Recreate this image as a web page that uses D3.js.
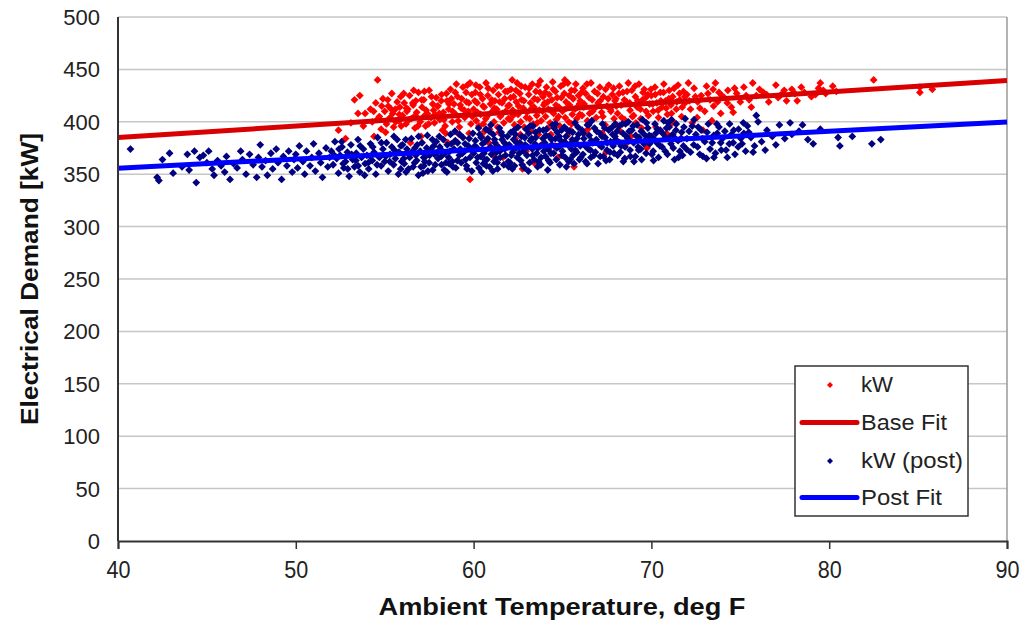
<!DOCTYPE html>
<html><head><meta charset="utf-8">
<script src="https://cdn.jsdelivr.net/npm/d3@7"></script>
<style>
html,body{margin:0;padding:0;background:#fff;}
text{font-family:"Liberation Sans",Arial,sans-serif;}
</style></head>
<body>
<svg id="chart" width="1035" height="622"></svg>
<script>
// ---------- data ----------
const xTicks = [40,50,60,70,80,90];
const yTicks = [0,50,100,150,200,250,300,350,400,450,500];
const seriesNames = ["kW","Base Fit","kW (post)","Post Fit"];
const fitTemps = [40,90];
const baseFitKW = [385,439.5];
const postFitKW = [355.7,399.7];

// kW (base period): [temperature degF, kW]
const kwBase = [
[52.4,392],[52.8,384],[53.3,421],[53.5,408],[53.6,425],[53.9,408],[53.1,399],[53.8,396],
[54.2,412],[54.3,400],[54.5,418],[54.6,440],[54.7,405],[54.8,393],[54.9,422],[55.0,410],[55.1,398],[55.2,415],[55.3,404],[55.4,427],[55.5,395],[55.6,412],[55.7,419],[55.8,401],[55.9,424],[55.05,390],[55.45,408],[55.85,414],[54.4,386],
[56.0,406],[56.1,418],[56.2,398],[56.3,412],[56.4,425],[56.5,403],[56.6,416],[56.7,394],[56.8,409],[56.9,428],[57.0,400],[57.1,414],[57.2,421],[57.3,396],[57.4,408],[57.5,430],[57.6,404],[57.7,417],[57.8,399],[57.9,423],[56.25,410],[56.75,420],[57.25,406],[57.75,411],[57.05,386],[56.45,380],
[58.0,415],[58.1,402],[58.2,426],[58.3,409],[58.4,396],[58.5,420],[58.6,412],[58.7,431],[58.8,400],[58.9,417],[59.0,407],[59.1,424],[59.2,395],[59.3,413],[59.4,433],[59.5,404],[59.6,419],[59.65,435],[59.8,437],[59.7,410],[59.85,398],[59.9,426],[58.25,392],[58.75,422],[59.25,416],[59.75,389],[59.8,345],[58.55,380],[59.45,372],
[60.0,412],[60.1,428],[60.15,401],[60.2,418],[60.3,396],[60.35,433],[60.4,407],[60.5,422],[60.55,398],[60.6,414],[60.7,437],[60.75,405],[60.8,425],[60.9,393],[60.95,417],[61.0,409],[61.1,430],[61.15,400],[61.2,420],[61.3,412],[61.35,395],[61.4,426],[61.5,405],[61.55,434],[61.6,418],[61.7,399],[61.75,422],[61.8,410],[61.9,429],[61.95,403],[60.45,386],[61.25,376],[61.65,366],[60.85,380],
[62.0,416],[62.05,402],[62.1,431],[62.2,411],[62.25,424],[62.3,397],[62.4,419],[62.45,437],[62.5,407],[62.6,427],[62.65,400],[62.7,421],[62.8,413],[62.85,395],[62.9,433],[63.0,409],[63.1,426],[63.15,403],[63.2,418],[63.3,436],[63.35,398],[63.4,414],[63.5,429],[63.55,406],[63.6,421],[63.7,411],[63.75,439],[63.8,401],[63.9,424],[63.95,416],[62.35,384],[62.95,372],[63.45,360],[63.65,388],[62.75,355],
[64.0,418],[64.05,405],[64.1,433],[64.2,412],[64.25,426],[64.3,399],[64.4,421],[64.45,438],[64.5,408],[64.6,429],[64.65,402],[64.7,423],[64.8,414],[64.85,396],[64.9,434],[65.0,410],[65.1,427],[65.15,404],[65.2,419],[65.3,437],[65.35,400],[65.4,416],[65.5,430],[65.55,407],[65.6,422],[65.7,412],[65.75,436],[65.8,403],[65.9,425],[65.95,417],[64.35,388],[64.95,379],[65.45,392],[65.65,357],[64.75,366],
[66.0,420],[66.1,406],[66.15,432],[66.2,414],[66.3,427],[66.4,401],[66.5,423],[66.6,437],[66.7,410],[66.8,429],[66.9,404],[67.0,418],[67.1,433],[67.2,409],[67.3,424],[67.4,397],[67.5,415],[67.6,435],[67.7,412],[67.8,426],[67.9,403],[67.95,420],[66.25,390],[66.85,382],[67.45,371],[67.65,393],
[68.0,422],[68.1,408],[68.2,434],[68.3,416],[68.4,428],[68.5,402],[68.6,419],[68.7,437],[68.8,411],[68.9,430],[69.0,406],[69.1,424],[69.2,414],[69.3,436],[69.4,403],[69.5,421],[69.6,431],[69.7,410],[69.8,426],[69.9,417],[68.25,391],[68.85,386],[69.45,394],[69.75,375],
[70.0,425],[70.1,410],[70.2,433],[70.3,418],[70.4,404],[70.5,428],[70.6,414],[70.7,436],[70.8,420],[70.9,407],[71.0,430],[71.1,416],[71.2,424],[71.4,412],[71.5,435],[71.6,421],[71.7,405],[71.8,429],[71.9,418],[70.25,395],[70.85,389],[71.3,399],[71.65,384],
[72.0,426],[72.2,412],[72.3,399],[72.4,432],[72.6,419],[72.8,425],[73.0,410],[73.1,434],[73.3,421],[73.5,415],[73.6,437],[73.8,428],[73.9,408],[72.9,392],[73.4,401],
[74.1,423],[74.3,430],[74.5,414],[74.8,427],[75.0,419],[75.2,433],[75.5,421],[75.7,437],[75.9,425],[74.6,409],
[76.3,428],[76.6,419],[77.0,435],[77.3,426],[77.6,420],[77.9,431],[78.2,420],[78.6,428],[79.0,424],[79.4,432],[79.5,437],[79.8,427],[80.2,434],[80.4,429],
[82.5,440],[85.1,433],[85.1,428],[85.8,431],
[54.38,410],[54.62,403],[54.83,415],[55.17,421],[55.37,412],[55.62,400],[55.82,407],[56.07,427],[56.22,413],[56.37,402],[56.58,418],[56.72,406],[56.87,396],[57.08,421],[57.33,411],[57.47,398],[57.63,424],[57.83,407],[57.97,415],[55.93,396],[56.63,430],[57.23,429],
[58.07,408],[58.18,420],[58.33,402],[58.47,427],[58.62,417],[58.82,410],[58.97,428],[59.13,401],[59.33,422],[59.48,411],[59.58,428],[59.73,418],[59.93,405],[60.07,420],[60.22,409],[60.38,426],[60.53,415],[60.68,403],[60.82,432],[61.02,421],[61.17,413],[61.33,434],[61.47,419],[61.63,408],[61.78,429],[61.93,415],[58.43,389],[59.18,388],[60.62,391],[61.43,390],[60.13,435],[59.03,436],[58.92,381],[61.08,369],
[62.08,423],[62.22,406],[62.38,430],[62.53,415],[62.68,434],[62.83,420],[62.97,404],[63.12,432],[63.27,413],[63.42,422],[63.58,399],[63.73,428],[63.88,410],[64.03,428],[64.17,419],[64.33,411],[64.48,431],[64.63,416],[64.78,405],[64.93,423],[65.07,436],[65.23,413],[65.38,425],[65.52,398],[65.68,430],[65.83,414],[65.97,407],[62.63,388],[63.22,391],[64.18,394],[65.28,387],[63.83,378],[64.57,377],[62.17,440],[63.63,435],[65.13,440],
[66.07,428],[66.22,417],[66.37,436],[66.52,408],[66.67,421],[66.82,413],[66.97,427],[67.12,420],[67.27,405],[67.42,431],[67.57,422],[67.72,410],[67.87,432],[68.03,415],[68.18,427],[68.33,404],[68.48,421],[68.63,429],[68.78,418],[68.93,405],[69.08,434],[69.23,420],[69.38,412],[69.53,428],[69.68,423],[69.83,406],[69.97,431],[66.43,393],[67.23,389],[68.08,396],[69.13,399],[67.83,380],[68.58,379],
[70.07,417],[70.22,426],[70.38,411],[70.53,420],[70.68,428],[70.83,413],[70.98,422],[71.13,408],[71.28,432],[71.43,419],[71.58,427],[71.73,414],[71.88,424],[72.13,420],[72.47,424],[72.73,413],[73.18,427],[73.47,431],[73.72,419],[73.97,425],[71.03,397],[72.57,404],[72.08,437],
[74.27,418],[74.68,432],[75.33,425],[75.62,414],[76.08,431],[76.48,426],[77.13,423],[77.47,430],[78.07,427],[78.43,433],[79.23,426],[79.67,430]
];

// kW (post period): [temperature degF, kW]
const kwPost = [
[40.7,374],[42.2,347],[42.3,344],[42.5,364],[42.9,370],[43.1,351],[43.6,357],[43.9,369],
[44.0,354],[44.3,372],[44.4,342],[44.6,366],[44.8,368],[45.0,361],[45.1,372],[45.3,355],[45.4,349],[45.6,363],[45.8,358],[46.0,352],[46.1,367],[46.3,345],[46.5,360],[46.7,356],[46.9,372],[47.0,364],[47.2,350],[47.4,369],[47.6,359],[47.8,347],[47.9,366],
[48.0,378],[48.1,357],[48.3,363],[48.4,349],[48.6,370],[48.7,355],[48.9,374],[49.0,361],[49.2,345],[49.3,367],[49.5,358],[49.6,372],[49.8,352],[49.9,364],
[50.0,369],[50.1,356],[50.2,377],[50.4,362],[50.5,350],[50.6,372],[50.8,358],[50.9,366],[51.0,379],[51.1,353],[51.3,370],[51.4,361],[51.5,347],[51.7,375],[51.8,357],[51.9,366],
[52.0,372],[52.1,359],[52.2,381],[52.3,365],[52.4,351],[52.5,368],[52.6,376],[52.7,356],[52.8,362],[52.9,371],[53.0,348],[53.1,378],[53.2,364],[53.3,357],[53.4,370],[53.5,383],[53.6,352],[53.7,366],[53.8,374],[53.9,360],
[54.0,368],[54.1,355],[54.2,379],[54.3,363],[54.4,371],[54.5,350],[54.6,385],[54.7,366],[54.8,358],[54.9,374],[55.0,362],[55.1,380],[55.2,353],[55.3,369],[55.4,376],[55.5,359],[55.6,365],[55.7,383],[55.8,371],[55.9,355],[55.95,362],[55.55,373],
[56.0,378],[56.1,360],[56.2,352],[56.3,370],[56.4,366],[56.5,384],[56.6,357],[56.7,375],[56.8,363],[56.9,349],[57.0,372],[57.1,380],[57.2,358],[57.3,367],[57.4,387],[57.5,361],[57.6,374],[57.7,354],[57.8,369],[57.9,381],[56.25,374],[56.75,368],[57.25,362],[57.75,377],[57.15,351],
[58.0,365],[58.1,376],[58.2,359],[58.3,383],[58.4,370],[58.5,352],[58.6,366],[58.7,388],[58.8,362],[58.9,374],[59.0,356],[59.1,380],[59.2,368],[59.3,361],[59.4,385],[59.5,372],[59.6,358],[59.7,377],[59.8,366],[59.9,353],[58.25,372],[58.75,379],[59.25,374],[59.75,384],[58.45,361],[59.55,364],[58.95,391],
[60.0,370],[60.1,382],[60.15,361],[60.2,375],[60.3,356],[60.35,388],[60.4,367],[60.5,379],[60.55,360],[60.6,372],[60.7,393],[60.75,364],[60.8,384],[60.9,357],[60.95,376],[61.0,369],[61.1,388],[61.15,362],[61.2,380],[61.3,371],[61.35,355],[61.4,376],[61.5,366],[61.55,390],[61.6,383],[61.7,359],[61.75,374],[61.8,368],[61.9,386],[61.95,362],[60.45,352],[61.45,394],[60.65,381],[61.25,365],
[62.0,378],[62.05,361],[62.1,390],[62.2,371],[62.25,383],[62.3,358],[62.4,375],[62.45,366],[62.5,395],[62.6,380],[62.65,363],[62.7,386],[62.8,372],[62.85,356],[62.9,378],[63.0,368],[63.1,389],[63.15,361],[63.2,382],[63.3,374],[63.35,396],[63.4,364],[63.5,385],[63.55,370],[63.6,357],[63.7,392],[63.75,377],[63.8,366],[63.9,384],[63.95,372],[62.35,388],[62.95,393],[63.45,379],[63.65,362],
[64.0,380],[64.05,367],[64.1,393],[64.2,374],[64.25,386],[64.3,361],[64.4,378],[64.45,397],[64.5,370],[64.6,384],[64.65,364],[64.7,390],[64.8,376],[64.85,359],[64.9,382],[65.0,372],[65.1,395],[65.15,366],[65.2,386],[65.3,378],[65.35,362],[65.4,391],[65.5,374],[65.55,383],[65.6,368],[65.7,399],[65.75,380],[65.8,371],[65.9,388],[65.95,364],[64.35,370],[64.95,392],[65.45,379],[65.65,360],
[66.0,377],[66.1,392],[66.15,369],[66.2,384],[66.3,362],[66.4,397],[66.45,374],[66.5,387],[66.6,366],[66.7,380],[66.8,394],[66.85,371],[66.9,383],[67.0,360],[67.1,389],[67.2,376],[67.25,398],[67.3,367],[67.4,385],[67.5,373],[67.6,392],[67.65,364],[67.7,381],[67.8,395],[67.9,370],[67.95,386],[66.65,401],[67.45,363],[66.25,378],[67.85,377],
[68.0,383],[68.1,368],[68.2,396],[68.3,377],[68.4,389],[68.5,365],[68.6,386],[68.7,400],[68.8,373],[68.9,392],[69.0,380],[69.1,367],[69.2,397],[69.3,385],[69.4,374],[69.5,402],[69.6,388],[69.7,370],[69.8,394],[69.9,379],[68.25,371],[68.75,391],[69.25,376],[69.75,384],[68.55,398],[69.45,364],
[70.0,386],[70.1,372],[70.2,398],[70.3,380],[70.4,366],[70.5,392],[70.6,376],[70.7,401],[70.8,385],[70.9,369],[71.0,395],[71.1,379],[71.2,388],[71.3,364],[71.4,398],[71.5,382],[71.6,372],[71.7,390],[71.8,377],[71.9,403],[70.25,389],[70.85,394],[71.35,384],[71.75,368],
[72.0,384],[72.2,371],[72.3,396],[72.5,388],[72.6,376],[72.8,392],[72.9,367],[73.0,381],[73.2,398],[73.3,374],[73.5,387],[73.6,370],[73.8,395],[73.9,380],[72.4,402],[73.1,365],[73.7,389],
[74.0,384],[74.2,373],[74.4,398],[74.5,388],[74.7,369],[74.9,393],[75.1,379],[75.3,372],[75.4,396],[75.6,385],[75.8,377],[75.9,406],[74.6,380],[75.2,389],
[76.0,400],[76.2,381],[76.4,373],[76.5,392],[76.8,386],[77.0,378],[77.2,397],[77.5,384],[77.8,399],[77.9,388],
[78.3,391],[78.5,397],[78.8,383],[79.1,379],[79.5,393],[80.5,385],[80.6,377],[81.3,386],[82.4,379],[82.9,383],
[52.17,368],[52.43,374],[52.66,360],[52.92,355],[53.14,369],[53.38,363],[53.62,377],[53.87,349],[54.08,361],[54.33,376],[54.57,359],[54.81,380],[55.06,367],[55.28,362],[55.52,386],[55.77,350],[55.91,377],[54.19,367],[53.51,358],[52.58,381],
[56.07,365],[56.18,383],[56.34,355],[56.52,371],[56.68,361],[56.83,378],[57.04,357],[57.19,366],[57.36,375],[57.53,368],[57.68,383],[57.84,359],[57.97,371],[58.07,386],[58.18,367],[58.36,354],[58.52,378],[58.67,372],[58.84,357],[58.97,382],[59.08,363],[59.22,388],[59.37,370],[59.52,379],[59.63,355],[59.83,374],[59.96,389],[58.62,360],[57.43,353],[56.91,386],
[60.07,377],[60.23,366],[60.42,385],[60.58,370],[60.72,358],[60.88,391],[61.03,374],[61.18,383],[61.33,361],[61.48,372],[61.62,387],[61.83,377],[61.97,357],[62.12,368],[62.28,392],[62.42,380],[62.57,370],[62.73,359],[62.88,385],[63.03,376],[63.18,396],[63.32,368],[63.48,390],[63.62,375],[63.78,359],[63.92,392],[60.28,394],[61.08,353],[62.18,355],[63.08,353],[60.97,397],[62.52,376],[63.27,384],[61.73,380],[60.63,364],
[64.07,387],[64.22,363],[64.38,383],[64.53,394],[64.68,375],[64.82,386],[64.97,368],[65.12,381],[65.28,392],[65.43,364],[65.57,390],[65.72,373],[65.87,395],[66.03,366],[66.17,389],[66.33,376],[66.48,397],[66.62,382],[66.77,368],[66.92,391],[67.07,378],[67.22,386],[67.37,394],[67.52,380],[67.67,371],[67.82,388],[67.97,398],[64.62,398],[65.22,357],[66.38,360],[67.12,367],[64.17,354],[65.82,384],[66.57,373],
[68.07,391],[68.22,380],[68.37,398],[68.52,376],[68.67,384],[68.82,367],[68.97,396],[69.12,387],[69.28,373],[69.43,391],[69.58,379],[69.72,399],[69.88,387],[70.03,369],[70.18,383],[70.33,393],[70.48,377],[70.63,389],[70.78,372],[70.93,399],[71.08,386],[71.23,375],[71.38,392],[71.53,366],[71.68,384],[71.83,395],[71.97,374],[68.42,362],[69.02,362],[70.12,363],[71.13,402],
[72.12,391],[72.38,378],[72.63,395],[72.87,384],[73.13,390],[73.42,380],[73.68,398],[73.93,373],[74.13,391],[74.38,379],[74.63,392],[74.88,376],[75.17,399],[75.48,390],[75.72,371],[72.72,369],[73.52,366],[74.27,366],[75.03,384]
];

// ---------- layout ----------
const svg = d3.select("#chart");
const L = 118, R = 1007, T = 17, B = 541;
const x = d3.scaleLinear().domain([40,90]).range([L,R]);
const y = d3.scaleLinear().domain([0,500]).range([B,T]);
const diamond = r => `M0,${-r}L${r},0L0,${r}L${-r},0Z`;

// gridlines
svg.append("g").selectAll("line").data(yTicks.filter(d=>d>0)).join("line")
  .attr("x1",L).attr("x2",R).attr("y1",d=>y(d)).attr("y2",d=>y(d))
  .attr("stroke","#c6c6c6").attr("stroke-width",1.5);
// right border
svg.append("line").attr("x1",R).attr("x2",R).attr("y1",T).attr("y2",B)
  .attr("stroke","#9a9a9a").attr("stroke-width",1.5);

// y tick labels
svg.append("g").selectAll("text").data(yTicks).join("text")
  .attr("x",100).attr("y",d=>y(d)+8).attr("text-anchor","end")
  .attr("font-size",22).attr("fill","#222").text(d=>d);

// x axis
const xAxis = d3.axisBottom(x).tickValues(xTicks).tickSize(8).tickPadding(12).tickFormat(d3.format("d"));
const gx = svg.append("g").attr("transform",`translate(0,${B})`).call(xAxis);
gx.select(".domain").attr("stroke","#333").attr("stroke-width",2);
gx.selectAll(".tick line").attr("stroke","#333").attr("stroke-width",1.5);
gx.selectAll(".tick text").attr("font-size",24).attr("fill","#222")
  .attr("font-family","'Liberation Sans Narrow','Liberation Sans',Arial,sans-serif")
  .attr("textLength",24).attr("lengthAdjust","spacingAndGlyphs");

// scatter kW
svg.append("g").selectAll("path").data(kwBase).join("path")
  .attr("d",diamond(3.9)).attr("transform",d=>`translate(${x(d[0])},${y(d[1])})`)
  .attr("fill","#ff0000");
// base fit
const line = d3.line().x(d=>x(d[0])).y(d=>y(d[1]));
svg.append("path").datum(fitTemps.map((t,i)=>[t,baseFitKW[i]])).attr("d",line)
  .attr("stroke","#d80000").attr("stroke-width",5).attr("fill","none");
// scatter post
svg.append("g").selectAll("path").data(kwPost).join("path")
  .attr("d",diamond(3.9)).attr("transform",d=>`translate(${x(d[0])},${y(d[1])})`)
  .attr("fill","#000080");
// post fit
svg.append("path").datum(fitTemps.map((t,i)=>[t,postFitKW[i]])).attr("d",line)
  .attr("stroke","#0000ff").attr("stroke-width",5).attr("fill","none");

// left axis line
svg.append("line").attr("x1",L).attr("x2",L).attr("y1",T).attr("y2",B)
  .attr("stroke","#333").attr("stroke-width",2);

// axis titles
svg.append("text").attr("x",562).attr("y",615).attr("text-anchor","middle")
  .attr("font-size",24).attr("font-weight","bold").attr("fill","#111")
  .attr("textLength",367).attr("lengthAdjust","spacingAndGlyphs")
  .text("Ambient Temperature, deg F");
svg.append("text").attr("transform","translate(38,279) rotate(-90)").attr("text-anchor","middle")
  .attr("font-size",24).attr("font-weight","bold").attr("fill","#111")
  .attr("textLength",292).attr("lengthAdjust","spacingAndGlyphs")
  .text("Electrical Demand [kW]");

// legend
const lg = svg.append("g");
lg.append("rect").attr("x",795).attr("y",366).attr("width",173).attr("height",150)
  .attr("fill","#fff").attr("stroke","#333").attr("stroke-width",1.5);
const legendY = [385,422.5,461,497.5];
const legendW = [32,86,102,81];
const legendKind = ["pt","ln","pt","ln"];
const legendColor = ["#ff0000","#d80000","#000080","#0000ff"];
seriesNames.forEach((name,i)=>{
  if(legendKind[i]==="pt"){
    lg.append("path").attr("d",diamond(3)).attr("transform",`translate(830,${legendY[i]})`).attr("fill",legendColor[i]);
  } else {
    lg.append("line").attr("x1",802).attr("x2",857).attr("y1",legendY[i]).attr("y2",legendY[i])
      .attr("stroke",legendColor[i]).attr("stroke-width",5).attr("stroke-linecap","round");
  }
  lg.append("text").attr("x",861).attr("y",legendY[i]+7).attr("font-size",22).attr("fill","#222")
    .attr("textLength",legendW[i]).attr("lengthAdjust","spacingAndGlyphs").text(name);
});
</script>
</body></html>
